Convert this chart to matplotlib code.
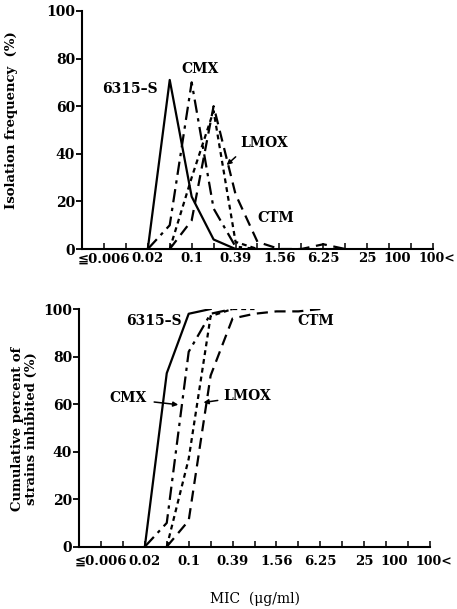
import matplotlib
matplotlib.use('Agg')
import matplotlib.pyplot as plt
import matplotlib.transforms as mtransforms
import numpy as np

plt.rcParams['font.family'] = ['DejaVu Serif', 'DejaVu Sans']

# MIC dilution steps (ug/ml), one per tick position 1..16
mic = ['≦0.006', '0.012', '0.02', '0.05', '0.1', '0.2', '0.39', '0.78',
       '1.56', '3.13', '6.25', '12.5', '25', '50', '100', '100<']
shown = ['≦0.006', '0.02', '0.1', '0.39', '1.56', '6.25', '25', '100', '100<']

# isolation frequency (%), first value sits at the given mic step
f_6315 = [0, 71, 22, 4, 0]
f_cmx = [0, 10, 70, 17, 1, 0]
f_lmox = [0, 30, 58, 3, 0]
f_ctm = [0, 12, 60, 23, 3, 0, 0, 2, 0]
f_start = {'6315-S': '0.02', 'CMX': '0.02', 'LMOX': '0.05', 'CTM': '0.05'}

# cumulative percent of strains inhibited
c_6315 = [0, 73, 98, 100]
c_cmx = [0, 10, 82, 98, 100]
c_lmox = [0, 37, 97, 100, 100]
c_ctm = [0, 11, 72, 96, 98, 99, 99, 100]

styles = {'6315-S': dict(ls='-'),
          'CMX': dict(dashes=(6, 2.5, 1.5, 2.5)),
          'LMOX': dict(dashes=(2.2, 1.8)),
          'CTM': dict(dashes=(5, 3))}

def pos(name, vals):
    i0 = mic.index(f_start[name]) + 1
    return np.arange(i0, i0 + len(vals))

def setup(ax, xpad):
    for s in ['top', 'right']:
        ax.spines[s].set_visible(False)
    ax.spines['left'].set_linewidth(1.5)
    ax.spines['bottom'].set_linewidth(1.5)
    ax.set_xlim(0, 16)
    ax.set_ylim(0, 100)
    ax.set_yticks([0, 20, 40, 60, 80, 100])
    ax.set_yticklabels(['0', '20', '40', '60', '80', '100'], fontweight='bold', fontsize=10)
    ax.tick_params(axis='y', direction='out', length=4, width=1.3, pad=1)
    ax.set_xticks(np.arange(1, 17))
    labs = [m if m in shown else '' for m in mic]
    ax.set_xticklabels(labs, fontweight='bold', fontsize=9.5)
    ax.tick_params(axis='x', direction='in', length=4, width=1.1, pad=xpad)
    tl = ax.get_xticklabels()
    tl[14].set_ha('right')
    tl[15].set_ha('left')
    tl[15].set_fontsize(9)
    off = mtransforms.ScaledTranslation(-0.14, 0, fig.dpi_scale_trans)
    tl[15].set_transform(tl[15].get_transform() + off)

fig = plt.figure(figsize=(4.57, 6.09), dpi=100)
ax1 = fig.add_axes([0.1794, 0.5911, 0.768, 0.391])
ax2 = fig.add_axes([0.1729, 0.1023, 0.768, 0.3903])

lw = 1.6
for name, vals in [('6315-S', f_6315), ('CMX', f_cmx), ('LMOX', f_lmox), ('CTM', f_ctm)]:
    ax1.plot(pos(name, vals), vals, color='black', lw=lw, **styles[name])
for name, vals in [('6315-S', c_6315), ('CMX', c_cmx), ('LMOX', c_lmox), ('CTM', c_ctm)]:
    ax2.plot(pos(name, vals), vals, color='black', lw=lw, **styles[name])

setup(ax1, 2.5)
setup(ax2, 6)

tk = dict(fontweight='bold', fontsize=10, color='black')
ax1.text(3.45, 67, '6315\u2013S', ha='right', va='center', **tk)
ax1.text(5.4, 75.5, 'CMX', ha='center', va='center', **tk)
ax1.text(7.2, 44.5, 'LMOX', ha='left', va='center', **tk)
ax1.text(8.0, 13, 'CTM', ha='left', va='center', **tk)
ax1.annotate('', xy=(6.5, 34.5), xytext=(7.1, 39.5),
             arrowprops=dict(arrowstyle='-|>', color='black', lw=1.1, mutation_scale=7))
ax1.set_ylabel('Isolation frequency  (%)', fontweight='bold', fontsize=9.5)
ax1.yaxis.set_label_coords(-0.182, 0.542)

ax2.text(4.7, 95, '6315\u2013S', ha='right', va='center', **tk)
ax2.text(9.95, 95, 'CTM', ha='left', va='center', **tk)
ax2.text(3.1, 62.5, 'CMX', ha='right', va='center', **tk)
ax2.text(6.6, 63.4, 'LMOX', ha='left', va='center', **tk)
ax2.annotate('', xy=(4.65, 59.6), xytext=(3.3, 61),
             arrowprops=dict(arrowstyle='-|>', color='black', lw=1.1, mutation_scale=7))
ax2.annotate('', xy=(5.55, 60.5), xytext=(6.45, 61.7),
             arrowprops=dict(arrowstyle='-|>', color='black', lw=1.1, mutation_scale=7))
ax2.set_ylabel('Cumulative percent of\nstrains inhibited (%)', fontweight='bold',
               fontsize=9.5, linespacing=1.05)
ax2.yaxis.set_label_coords(-0.117, 0.497)
ax2.set_xlabel('MIC  (\u03bcg/ml)', fontsize=10, labelpad=17)

fig.savefig('out.png', dpi=100)
